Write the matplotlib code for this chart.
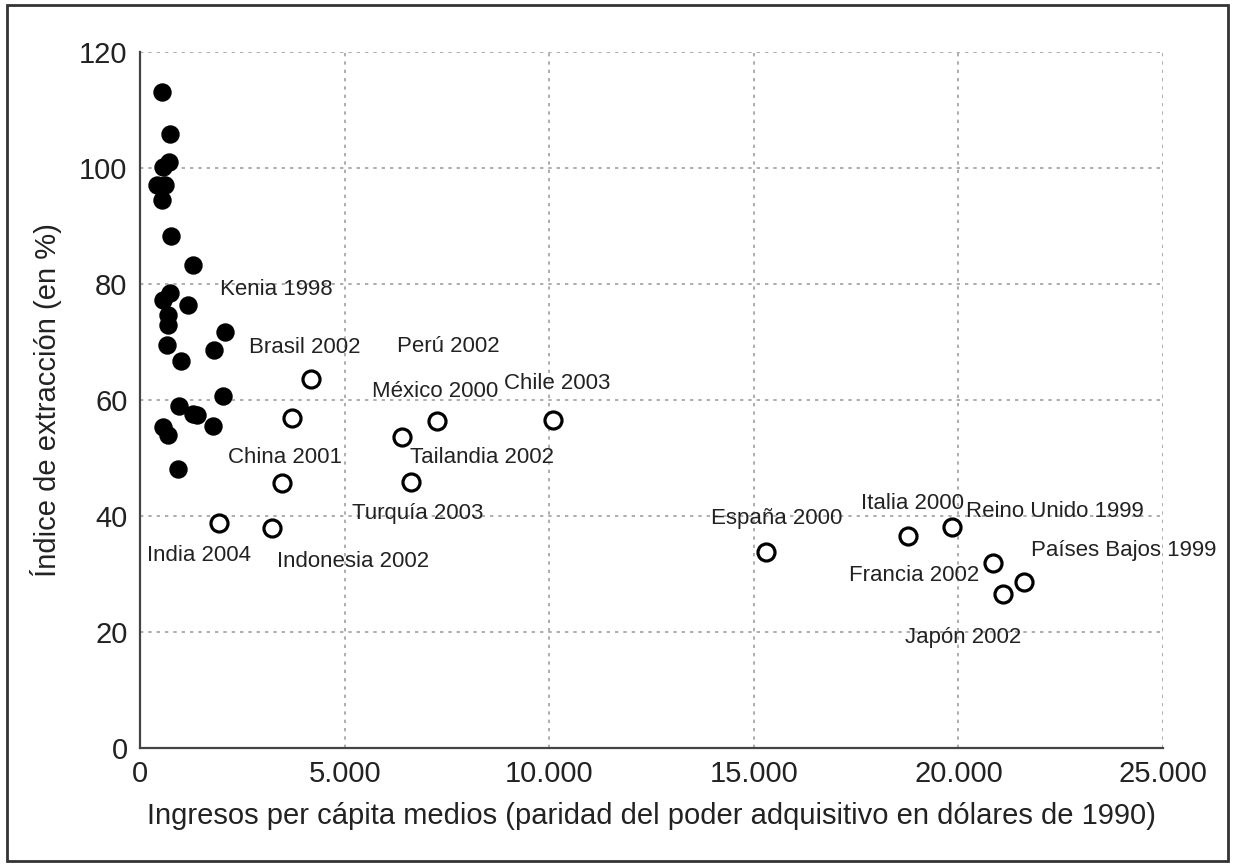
import matplotlib.pyplot as plt
import matplotlib.patches as patches

plt.rcParams['font.family'] = ['Liberation Sans', 'DejaVu Sans']

# puntos negros (sociedades preindustriales)
x_llenos = [538, 733, 562, 709, 415, 611, 538, 758, 1295, 733, 562, 1173, 684, 684,
            660, 2078, 1808, 1002, 2028, 953, 1393, 1300, 1784, 562, 684, 929]
y_llenos = [113.1, 105.9, 100.2, 101.0, 97.0, 97.0, 94.5, 88.3, 83.3, 78.4, 77.2, 76.4, 74.6, 72.9,
            69.5, 71.7, 68.6, 66.7, 60.7, 59.0, 57.4, 57.6, 55.5, 55.3, 54.0, 48.1]

# circulos blancos (paises modernos)
x_vacios = [4180, 3714, 3470, 1931, 3226, 7258, 6403, 6623, 10093,
            15298, 18768, 19844, 20845, 21090, 21603]
y_vacios = [63.6, 56.9, 45.7, 38.8, 37.9, 56.4, 53.6, 45.9, 56.6,
            33.8, 36.6, 38.1, 31.9, 26.6, 28.6]

etiquetas = ['Kenia 1998', 'Brasil 2002', 'Perú 2002', 'México 2000', 'Chile 2003',
             'China 2001', 'Tailandia 2002', 'Turquía 2003', 'India 2004', 'Indonesia 2002',
             'España 2000', 'Italia 2000', 'Reino Unido 1999', 'Francia 2002',
             'Países Bajos 1999', 'Japón 2002']
etiq_x = [3320, 4032, 7527, 7209, 10190, 3543, 8358, 6794, 1442, 5205,
          15567, 18890, 22360, 18915, 24047, 20112]
etiq_y = [79.0, 69.0, 69.3, 61.4, 62.8, 50.0, 50.0, 40.5, 33.1, 32.2,
          39.5, 42.2, 40.7, 29.7, 34.0, 19.0]

xticks = [0, 5000, 10000, 15000, 20000, 25000]
xtick_labels = ['0', '5.000', '10.000', '15.000', '20.000', '25.000']
yticks = [0, 20, 40, 60, 80, 100, 120]

fig = plt.figure(figsize=(12.35, 8.64), dpi=100)
ax = fig.add_axes([0.1134, 0.1343, 0.8283, 0.8056])

ax.scatter(x_llenos, y_llenos, s=150, color='black', zorder=3)
ax.scatter(x_vacios, y_vacios, s=150, facecolor='white', edgecolor='black',
           linewidth=2.3, zorder=3)

for t, tx, ty in zip(etiquetas, etiq_x, etiq_y):
    ax.text(tx, ty, t, ha='center', va='center', fontsize=16, color='#222222', zorder=4)

ax.set_xlim(0, 25000)
ax.set_ylim(0, 120)
ax.set_xticks(xticks)
ax.set_xticklabels(xtick_labels)
ax.set_yticks(yticks)
ax.tick_params(length=0, labelsize=21, colors='#222222', pad=9)

ax.grid(True, color='#a0a0a0', linestyle=(0, (2, 3)), linewidth=1.2)
ax.set_axisbelow(True)
ax.spines['top'].set_visible(False)
ax.spines['right'].set_visible(False)
for s in ['left', 'bottom']:
    ax.spines[s].set_color('#444444')
    ax.spines[s].set_linewidth(1.6)

ax.set_xlabel('Ingresos per cápita medios (paridad del poder adquisitivo en dólares de 1990)',
              fontsize=21, color='#222222', labelpad=10)
ax.set_ylabel('Índice de extracción (en %)', fontsize=21, color='#222222', labelpad=12)

# marco exterior
fig.patches.append(patches.Rectangle((0.006, 0.004), 0.988, 0.99, transform=fig.transFigure,
                                     fill=False, edgecolor='#333333', linewidth=2))

fig.savefig('out.png', dpi=100)
